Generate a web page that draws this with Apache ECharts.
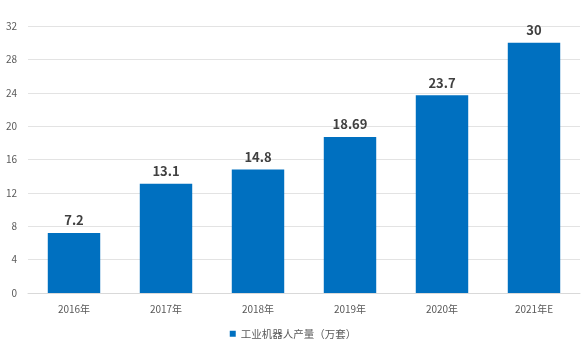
<!DOCTYPE html>
<html><head><meta charset="utf-8">
<script src="https://cdn.jsdelivr.net/npm/echarts@6/dist/echarts.min.js"></script>
<style>html,body{margin:0;padding:0;background:#fff}#c{width:586px;height:349px}</style>
</head><body><div id="c"></div>
<script>
const categories = ['2016年','2017年','2018年','2019年','2020年','2021年E'];
const values = [7.2, 13.1, 14.8, 18.69, 23.7, 30];
const seriesName = '工业机器人产量（万套）';
const chart = echarts.init(document.getElementById('c'), null, {renderer:'canvas'});
const font = '"Microsoft YaHei","Noto Sans CJK SC","Noto Sans",sans-serif';
chart.setOption({
  animation:false,
  textStyle:{fontFamily:font},
  grid:{left:28,right:6,top:26,bottom:56,containLabel:false},
  legend:{bottom:5,left:'center',itemWidth:6,itemHeight:6,icon:'rect',itemGap:4,
    textStyle:{fontSize:10.5,color:'#595959',fontFamily:font},data:[seriesName]},
  xAxis:{type:'category',data:categories,
    axisLine:{lineStyle:{color:'#d9d9d9'}},axisTick:{show:false},
    axisLabel:{fontSize:10,color:'#595959',margin:11,fontFamily:font}},
  yAxis:{type:'value',min:0,max:32,interval:4,
    axisLine:{show:false},axisTick:{show:false},
    splitLine:{lineStyle:{color:'#e3e3e3'}},
    axisLabel:{fontSize:10,color:'#595959',margin:11,fontFamily:font}},
  series:[{name:seriesName,type:'bar',data:values,barWidth:'57%',
    itemStyle:{color:'#0070C0'},
    label:{show:true,position:'top',distance:6,fontSize:13,fontWeight:'bold',color:'#404040',fontFamily:font}}]
});
</script></body></html>
